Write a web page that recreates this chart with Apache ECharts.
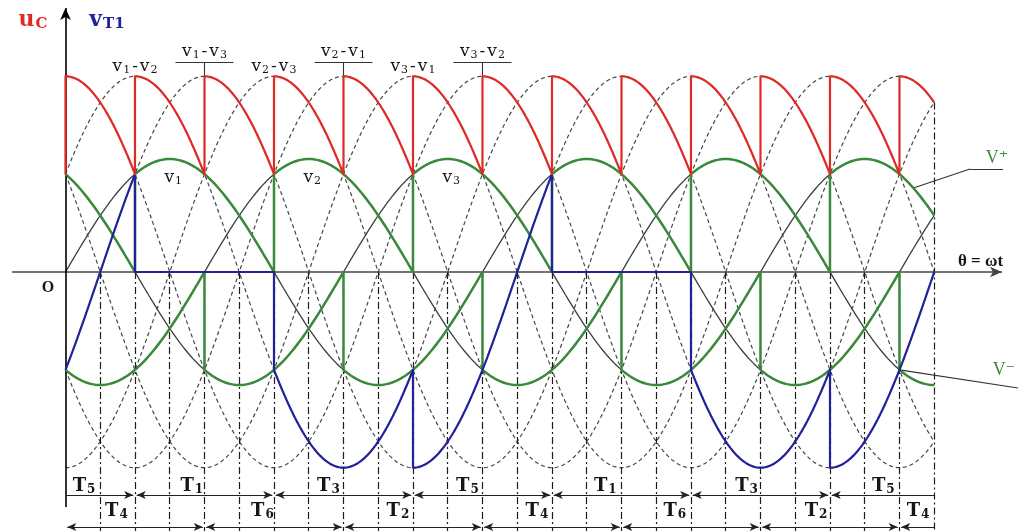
<!DOCTYPE html>
<html>
<head>
<meta charset="utf-8">
<script src="https://cdn.jsdelivr.net/npm/echarts@6/dist/echarts.min.js"></script>
<style>
  html, body { margin: 0; padding: 0; background: #ffffff; }
  #chart { width: 1032px; height: 531px; }
</style>
</head>
<body>
<div id="chart"></div>
<script>
// ---------------- waveform definition ----------------
// Phase voltages: v1 = sin θ, v2 = sin(θ - 120°), v3 = sin(θ + 120°)  (per-unit amplitude)
const phaseLabels    = ['v₁', 'v₂', 'v₃'];
const phaseShiftDeg  = [0, -120, 120];
const phaseAmplitude = 1;
const phasePeakDeg   = [90, 210, 330];
const thetaEnd       = 750;            // plotted range 0 … 750°

// Upper thyristor group: start of each conduction interval and phase tied to V+
const upperStart  = [0, 60, 180, 300, 420, 540, 660];
const upperPhase  = [3, 1, 2, 3, 1, 2, 3];
const upperLabels = ['T₅', 'T₁', 'T₃', 'T₅', 'T₁', 'T₃', 'T₅'];

// Lower thyristor group: start of each conduction interval and phase tied to V-
const lowerStart  = [0, 120, 240, 360, 480, 600, 720];
const lowerPhase  = [2, 3, 1, 2, 3, 1, 2];
const lowerLabels = ['T₄', 'T₆', 'T₂', 'T₄', 'T₆', 'T₂', 'T₄'];
const lowerPhaseBefore = 1;            // phase on V- just before θ = 0

// Line-voltage names at the peaks that follow each firing
const lineLabels  = ['v₁-v₂', 'v₁-v₃', 'v₂-v₃', 'v₂-v₁', 'v₃-v₁', 'v₃-v₂'];
const linePeakDeg = [60, 120, 180, 240, 300, 360];
const gridTickDeg = [30, 60, 90, 120, 150, 180, 210, 240, 270, 300, 330, 360, 390, 420,
                     450, 480, 510, 540, 570, 600, 630, 660, 690, 720, 750];

// ---------------- layout (pixel frame of the drawing) ----------------
const W = 1032, H = 531;
const X0 = 65.5, PX_PER_DEG = 1.1583;   // θ = 0 position and horizontal scale
const Y0 = 272,  PX_PER_UNIT = 113;     // zero line and vertical scale
const tx = px => (px - X0) / PX_PER_DEG;
const ty = px => (Y0 - px) / PX_PER_UNIT;

const FONT   = "'Liberation Serif','DejaVu Serif','Times New Roman',serif";
const WIDE   = "'DejaVu Serif','Liberation Serif',serif";
const RED    = '#e02a26';
const BLUE   = '#22229a';
const GREEN  = '#3a8a3a';
const THIN   = '#36433a';
const DASH   = '#454545';
const INK    = '#161616';

// ---------------- waveform helpers ----------------
const rad = d => d * Math.PI / 180;
const STEP = 1;
function phaseV(p, th) { return phaseAmplitude * Math.sin(rad(th + phaseShiftDeg[p - 1])); }
function sample(a, b, f) {
  const out = [];
  for (let t = a; t < b; t += STEP) out.push([t, f(t)]);
  out.push([b, f(b)]);
  return out;
}
function activeIndex(starts, th) {
  let k = 0;
  for (let i = 0; i < starts.length; i++) if (starts[i] <= th) k = i;
  return k;
}
function piecewise(starts, fnFor) {
  let pts = [];
  for (let i = 0; i < starts.length; i++) {
    const a = starts[i], b = i + 1 < starts.length ? starts[i + 1] : thetaEnd;
    pts = pts.concat(sample(a, b, fnFor(i)));
  }
  return pts;
}
const vPlus  = th => phaseV(upperPhase[activeIndex(upperStart, th)], th);
const vMinus = th => phaseV(lowerPhase[activeIndex(lowerStart, th)], th);

// V+ and V- envelopes
const vPlusData  = piecewise(upperStart, i => t => phaseV(upperPhase[i], t));
const vMinusData = piecewise(lowerStart, i => t => phaseV(lowerPhase[i], t));

// Output voltage u_C = V+ - V-
const breaks = Array.from(new Set(upperStart.concat(lowerStart))).sort((a, b) => a - b);
const ucData = [[0, phaseV(upperPhase[0], 0) - phaseV(lowerPhaseBefore, 0)]].concat(
  piecewise(breaks, i => {
    const up = upperPhase[activeIndex(upperStart, breaks[i])];
    const lo = lowerPhase[activeIndex(lowerStart, breaks[i])];
    return t => phaseV(up, t) - phaseV(lo, t);
  })
);

// Voltage across T1: v_T1 = v1 - V+
const vt1Data = piecewise(upperStart, i => t => phaseV(1, t) - phaseV(upperPhase[i], t));

// Thin phase curves and dashed line-voltage curves
const phaseCurves = [1, 2, 3].map(p => sample(0, thetaEnd, t => phaseV(p, t)));
const lineCurves = [];
for (let i = 1; i <= 3; i++) for (let j = 1; j <= 3; j++)
  if (i !== j) lineCurves.push(sample(0, thetaEnd, t => phaseV(i, t) - phaseV(j, t)));

// ---------------- series builders ----------------
function curve(data, color, width, type, z) {
  return {
    type: 'line', data, symbol: 'none', showSymbol: false, silent: true,
    animation: false, clip: false, z: z || 2,
    lineStyle: { color, width, type: type || 'solid', cap: 'butt', join: 'round' }
  };
}
function seg(a, b, sa, sb) {
  return [{ coord: a, symbol: sa || 'none' }, { coord: b, symbol: sb || 'none' }];
}
function markLines(data, color, width, type, symbolSize, z) {
  return {
    type: 'line', data: [], silent: true, animation: false, z: z || 3,
    markLine: {
      silent: true, animation: false, precision: 6,
      symbolSize: symbolSize || [7, 10],
      label: { show: false }, emphasis: { disabled: true },
      lineStyle: { color, width, type: type || 'solid' },
      data
    }
  };
}
function text(th, y, str, style) {
  return {
    value: [th, y],
    label: Object.assign({
      show: true, position: 'inside', formatter: () => str,
      fontFamily: FONT, fontSize: 17, color: INK, opacity: 1,
      textBorderWidth: 0, textShadowBlur: 0,
      align: 'center', verticalAlign: 'middle'
    }, style || {})
  };
}

// Unicode subscript digits → rich-text tokens with a lowered, smaller digit
const SUBS = '₀₁₂₃₄₅₆₇₈₉';
function richSub(str) {
  let out = '';
  for (const ch of str) {
    const k = SUBS.indexOf(ch);
    if (k >= 0) out += '{s|' + k + '}';
    else if (ch === '-') out += '{h|-}';
    else out += '{b|' + ch + '}';
  }
  return out;
}
function subStyle(size, weight, color) {
  const base = { fontFamily: WIDE, fontWeight: weight, color: color || INK, opacity: 1 };
  return {
    b: Object.assign({ fontSize: size }, base),
    h: Object.assign({ fontSize: size, padding: [0, 2, 0, 2] }, base),
    s: Object.assign({ fontSize: Math.round(size * 0.66), padding: [Math.round(size * 0.4), 0, 0, 1] }, base)
  };
}

// axes
const axisLines = markLines([
  seg([tx(12), 0], [tx(1002), 0], 'none', 'arrow'),
], '#454545', 1.5, 'solid', [8, 12], 4);
const yAxisLine = markLines([
  seg([0, ty(507)], [0, ty(8)], 'none', 'arrow'),
], '#000000', 1.6, 'solid', [8, 12], 4);

// vertical dash-dot guides below the zero line
const guideData = gridTickDeg.map(d =>
  seg([d, d === thetaEnd ? ucData[ucData.length - 1][1] : 0], [d, ty(H)]));
const guides = markLines(guideData, '#1e1e1e', 1.2, [7, 3, 2, 3], 0, 1);

// conduction interval arrows
function rowArrows(starts, y, firstOpen) {
  const out = [];
  for (let i = 0; i < starts.length; i++) {
    const a = starts[i], b = i + 1 < starts.length ? starts[i + 1] : thetaEnd;
    const openL = (i === 0 && firstOpen), openR = (b === thetaEnd);
    out.push(seg([a + (openL ? 0 : 1.5), y], [b - (openR ? 0 : 1.5), y],
                 openL ? 'none' : 'arrow', openR ? 'none' : 'arrow'));
  }
  return out;
}
const arrowRows = markLines(
  rowArrows(upperStart, ty(495), true).concat(rowArrows(lowerStart, ty(527), false)),
  '#222', 1.1, 'solid', [6, 9], 3);

// line-voltage name bars, ticks, and V+/V- leaders
const annoData = [];
linePeakDeg.forEach((d, i) => {
  if (i % 2 === 1) {
    annoData.push(seg([d - tx(X0 + 29) , ty(62)], [d + tx(X0 + 29), ty(62)]));
    annoData.push(seg([d, ty(62)], [d, Math.sqrt(3) * phaseAmplitude]));
  }
});
const plusStart = 732;
annoData.push(seg([plusStart, vPlus(plusStart)], [tx(970), ty(169)]));
annoData.push(seg([tx(970), ty(169)], [tx(1003), ty(169)]));
annoData.push(seg([720, vMinus(720)], [tx(1018), ty(388)]));
const annotations = markLines(annoData, '#333', 1.1, 'solid', 0, 6);

// text labels
const texts = [
  text(tx(33), ty(20), '{b|u}{s|C}', { rich: subStyle(22, 'bold', RED) }),
  text(tx(107), ty(20), '{b|v}{s|T1}', { rich: subStyle(22, 'bold', BLUE) }),
  text(tx(48), ty(288), 'O', { fontWeight: 'bold', fontSize: 16 }),
  text(tx(958), ty(262), 'θ = ωt', { fontWeight: 'bold', fontSize: 17, align: 'left' }),
  text(tx(997), ty(158), 'V⁺', { color: GREEN, fontSize: 18 }),
  text(tx(1004), ty(370), 'V⁻', { color: GREEN, fontSize: 18 })
];
lineLabels.forEach((s, i) => {
  texts.push(text(linePeakDeg[i], i % 2 ? ty(52) : ty(67), richSub(s), { rich: subStyle(17, 'normal') }));
});
phaseLabels.forEach((s, i) => {
  texts.push(text(phasePeakDeg[i] + 3, ty(178), richSub(s), { rich: subStyle(17, 'normal') }));
});
const upperLabelAt = [16, 109, 227, 347, 466, 588, 706];
const lowerLabelAt = [44, 170, 287, 407, 526, 648, 736];
upperLabels.forEach((s, i) => texts.push(text(upperLabelAt[i], ty(486), richSub(s), { rich: subStyle(18, 'bold') })));
lowerLabels.forEach((s, i) => texts.push(text(lowerLabelAt[i], ty(511), richSub(s), { rich: subStyle(18, 'bold') })));

const textSeries = {
  type: 'scatter', data: texts, symbol: 'circle', symbolSize: 1, silent: true,
  animation: false, z: 10, clip: false,
  itemStyle: { color: '#ffffff', opacity: 1 }
};

// ---------------- chart ----------------
const chart = echarts.init(document.getElementById('chart'), null, { renderer: 'canvas' });
chart.setOption({
  backgroundColor: '#ffffff',
  animation: false,
  grid: { left: 0, right: 0, top: 0, bottom: 0, containLabel: false },
  xAxis: { type: 'value', min: tx(0), max: tx(W), show: false },
  yAxis: { type: 'value', min: ty(H), max: ty(0), show: false },
  series: [
    guides,
    ...lineCurves.map(d => curve(d, DASH, 1.2, [4, 3], 2)),
    ...phaseCurves.map(d => curve(d, THIN, 1.3, 'solid', 3)),
    axisLines,
    yAxisLine,
    curve(vPlusData, GREEN, 2.5, 'solid', 5),
    curve(vMinusData, GREEN, 2.5, 'solid', 5),
    curve(vt1Data, BLUE, 2.2, 'solid', 6),
    curve(ucData, RED, 2.2, 'solid', 7),
    annotations,
    arrowRows,
    textSeries
  ]
});
</script>
</body>
</html>
